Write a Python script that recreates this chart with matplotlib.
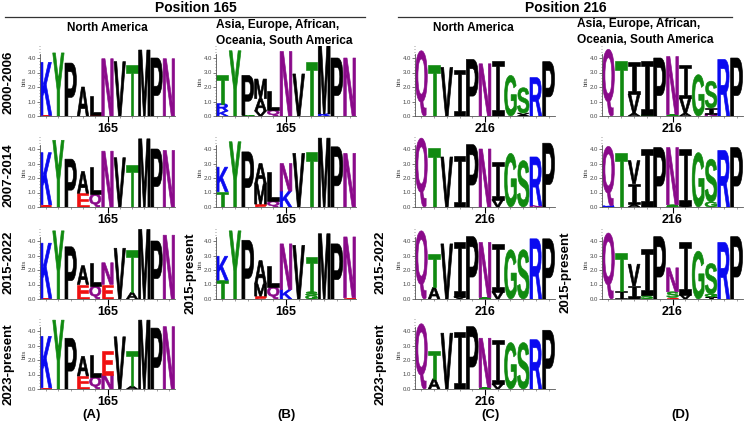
import matplotlib
matplotlib.use('Agg')
import matplotlib.pyplot as plt
from matplotlib.textpath import TextPath
from matplotlib.patches import PathPatch
from matplotlib.path import Path
from matplotlib.font_manager import FontProperties
from matplotlib.transforms import Affine2D
from matplotlib.ticker import MultipleLocator

plt.rcParams['font.family'] = ['Liberation Sans', 'DejaVu Sans']

# sequence logo data: each column is a stack of (residue, bits), bottom to top
# position 165, North America
na165_2000 = [[('E', 0.05), ('K', 3.65)], [('Y', 4.35)], [('P', 3.65)], [('A', 2.0)],
              [('E', 0.08), ('L', 1.3)], [('N', 3.95)], [('V', 3.75)], [('T', 3.5)],
              [('M', 4.55)], [('P', 4.0)], [('N', 3.95)]]
na165_2007 = [[('E', 0.15), ('K', 3.6)], [('Y', 4.6)], [('P', 3.3)], [('E', 0.95), ('A', 1.5)],
              [('Q', 0.9), ('L', 1.85)], [('N', 3.85)], [('V', 3.4)], [('T', 2.9)],
              [('M', 4.7)], [('P', 4.0)], [('N', 3.9)]]
na165_2015 = [[('E', 0.05), ('K', 3.8)], [('Y', 4.7)], [('P', 3.6)], [('E', 1.0), ('A', 1.3)],
              [('Q', 0.9), ('L', 1.6)], [('E', 1.0), ('N', 1.5)], [('V', 3.5)],
              [('A', 0.45), ('T', 2.95)], [('M', 4.8)], [('P', 4.0)], [('N', 4.4)]]
na165_2023 = [[('E', 0.08), ('K', 3.55)], [('Y', 4.75)], [('P', 3.5)], [('E', 0.9), ('A', 1.35)],
              [('Q', 0.85), ('L', 1.5)], [('N', 1.0), ('E', 1.65)], [('V', 3.6)],
              [('A', 0.2), ('T', 2.45)], [('M', 4.75)], [('P', 4.2)], [('N', 4.3)]]
# position 165, Asia/Europe/Africa/Oceania/South America
ot165_2000 = [[('K', 0.35), ('R', 0.5), ('T', 1.95)], [('Y', 4.5)], [('T', 0.05), ('P', 2.75)],
              [('V', 0.35), ('A', 0.85), ('M', 1.35)], [('Q', 0.4), ('L', 1.35)], [('N', 4.45)],
              [('V', 2.9)], [('T', 3.75)], [('K', 0.15), ('M', 4.7)], [('P', 4.0)], [('N', 4.0)]]
ot165_2007 = [[('T', 1.05), ('K', 1.7)], [('Y', 4.5)], [('P', 3.8)],
              [('E', 0.2), ('M', 1.4), ('A', 1.4)], [('Q', 0.4), ('L', 2.0)], [('K', 1.1), ('N', 1.9)],
              [('V', 3.7)], [('T', 3.8)], [('M', 4.75)], [('P', 4.15)], [('N', 3.7)]]
ot165_2015 = [[('T', 1.3), ('K', 1.65)], [('Y', 4.7)], [('P', 4.05)],
              [('E', 0.2), ('M', 0.85), ('A', 1.6)], [('Q', 0.85), ('L', 1.45)], [('K', 0.65), ('N', 3.15)],
              [('V', 3.7)], [('G', 0.25), ('S', 0.25), ('T', 2.4)], [('M', 4.5)], [('P', 3.8)],
              [('E', 0.08), ('N', 4.2)]]
# position 216, North America
na216_2000 = [[('Q', 4.5)], [('T', 3.55)], [('V', 3.35)], [('I', 3.2)], [('P', 3.9)], [('N', 3.6)],
              [('I', 3.8)], [('G', 2.8)], [('A', 0.08), ('V', 0.12), ('S', 1.75)], [('R', 2.65)], [('P', 3.75)]]
na216_2007 = [[('Q', 4.75)], [('T', 4.1)], [('V', 3.45)], [('I', 3.55)], [('P', 4.3)], [('N', 4.0)],
              [('V', 0.5), ('I', 2.6)], [('G', 3.7)], [('S', 3.2)], [('N', 0.1), ('R', 3.35)], [('P', 4.4)]]
na216_2015 = [[('Q', 4.7)], [('A', 0.8), ('T', 2.3)], [('V', 3.8)], [('V', 0.15), ('I', 3.75)], [('P', 4.3)],
              [('S', 0.1), ('N', 3.8)], [('V', 0.5), ('I', 3.3)], [('G', 3.4)], [('S', 3.4)], [('R', 4.15)],
              [('P', 4.15)]]
na216_2023 = [[('Q', 4.5)], [('A', 0.7), ('T', 1.95)], [('V', 3.85)], [('I', 3.95)], [('P', 4.3)],
              [('S', 0.1), ('N', 3.4)], [('V', 0.35), ('I', 3.05)], [('G', 3.2)], [('S', 3.2)], [('R', 3.4)],
              [('P', 4.05)]]
# position 216, other continents
ot216_2000 = [[('Q', 4.6)], [('T', 3.8)], [('A', 0.2), ('V', 1.3), ('I', 2.2)], [('G', 0.1), ('I', 3.7)],
              [('P', 4.0)], [('S', 0.1), ('N', 4.0)], [('A', 0.2), ('V', 1.05), ('I', 2.3)], [('G', 2.85)],
              [('N', 0.15), ('I', 0.4), ('S', 1.85)], [('R', 3.9)], [('P', 4.0)]]
ot216_2007 = [[('K', 0.08), ('Q', 4.1)], [('T', 3.75)], [('A', 0.2), ('I', 1.4), ('V', 1.6)],
              [('I', 4.0)], [('P', 4.1)], [('S', 0.15), ('N', 3.95)], [('V', 0.1), ('I', 3.9)], [('G', 3.75)],
              [('G', 0.35), ('S', 2.95)], [('R', 3.9)], [('P', 4.1)]]
ot216_2015 = [[('Q', 4.55)], [('I', 0.55), ('T', 2.65)], [('A', 0.1), ('I', 0.8), ('V', 1.5)],
              [('S', 0.3), ('I', 3.15)], [('P', 4.3)], [('E', 0.1), ('S', 0.4), ('N', 1.65)],
              [('V', 0.3), ('I', 3.6)], [('G', 3.3)], [('I', 0.15), ('G', 0.2), ('S', 2.1)], [('R', 3.9)],
              [('P', 4.3)]]

colors = {'K': '#0a0af0', 'R': '#0a0af0', 'H': '#0a0af0',
          'Y': '#108a10', 'T': '#108a10', 'G': '#108a10', 'S': '#108a10', 'C': '#108a10',
          'N': '#8a0a8a', 'Q': '#8a0a8a',
          'E': '#f01010', 'D': '#f01010',
          'P': 'black', 'A': 'black', 'L': 'black', 'V': 'black', 'I': 'black', 'M': 'black',
          'F': 'black', 'W': 'black'}

W, H = 750, 424
fig = plt.figure(figsize=(7.5, 4.24), dpi=100)

def fx(x):
    return x / W

def fy(y):
    return 1 - y / H

letter_font = FontProperties(family='Liberation Sans', weight='bold')
paths = {}

# serif capital I like the one weblogo draws (bar, thin stem, bar)
bar, half = 0.1, 0.14
i_path = Path([(0, 0), (1, 0), (1, bar), (0.5 + half, bar), (0.5 + half, 1 - bar), (1, 1 - bar),
               (1, 1), (0, 1), (0, 1 - bar), (0.5 - half, 1 - bar), (0.5 - half, bar), (0, bar), (0, 0)],
              closed=True)

def glyph(ch):
    if ch not in paths:
        paths[ch] = i_path if ch == 'I' else TextPath((0, 0), ch, size=1, prop=letter_font)
    return paths[ch]

ppb = 14.5   # pixels per bit
ytop = 4.8

def logo(stacks, x0, x1, zero, site):
    ax = fig.add_axes([fx(x0), fy(zero), fx(x1 - x0), ytop * ppb / H])
    for i, stack in enumerate(stacks, start=1):
        base = 0
        for ch, h in stack:
            p = glyph(ch)
            e = p.get_extents()
            tr = (Affine2D().translate(-e.x0, -e.y0)
                  .scale(0.93 / e.width, h / e.height)
                  .translate(i - 0.465, base))
            ax.add_patch(PathPatch(p, transform=tr + ax.transData, fc=colors[ch],
                                   ec=colors[ch], lw=0.45, joinstyle='miter'))
            base += h
    ax.set_xlim(0.5, len(stacks) + 0.5)
    ax.set_ylim(0, ytop)
    ax.patch.set_alpha(0)
    for s in ['top', 'right']:
        ax.spines[s].set_visible(False)
    ax.spines['left'].set_bounds(0, 4.3)
    for s in ['left', 'bottom']:
        ax.spines[s].set_linewidth(0.6)
        ax.spines[s].set_color('#555555')
    ax.set_yticks([0, 1, 2, 3, 4])
    ax.set_yticklabels(['0.0', '1.0', '2.0', '3.0', '4.0'])
    ax.yaxis.set_minor_locator(MultipleLocator(0.2))
    ax.tick_params(axis='y', labelsize=4.3, length=2, width=0.5, pad=1, colors='#444444')
    ax.tick_params(axis='y', which='minor', length=1, width=0.4, colors='#555555')
    ax.set_ylabel('bits', fontsize=4.3, labelpad=0.5, color='#444444')
    ax.set_xticks([6])
    ax.set_xticklabels([site])
    ax.set_xticks(range(1, len(stacks) + 1), minor=True)
    ax.tick_params(axis='x', length=4, width=0.8, pad=1, labelsize=9)
    ax.tick_params(axis='x', which='minor', length=1.5, width=0.4, colors='#555555')
    for t in ax.get_xticklabels():
        t.set_fontweight('bold')
    return ax

rows = [116, 207, 299, 389]
colA, colB, colC, colD = (40, 175), (216, 356), (415, 555), (602, 743)

for data, r in zip([na165_2000, na165_2007, na165_2015, na165_2023], rows):
    logo(data, colA[0], colA[1], r, '165')
for data, r in zip([ot165_2000, ot165_2007, ot165_2015], rows):
    logo(data, colB[0], colB[1], r, '165')
for data, r in zip([na216_2000, na216_2007, na216_2015, na216_2023], rows):
    logo(data, colC[0], colC[1], r, '216')
for data, r in zip([ot216_2000, ot216_2007, ot216_2015], rows):
    logo(data, colD[0], colD[1], r, '216')

def txt(x, y, s, size, **kw):
    fig.text(fx(x), fy(y), s, fontsize=size, fontweight='bold', ha=kw.pop('ha', 'center'),
             va=kw.pop('va', 'center'), **kw)

# headers
txt(196, 8, 'Position 165', 10)
txt(566, 8, 'Position 216', 10)
fig.add_artist(plt.Line2D([fx(5), fx(365)], [fy(16.5), fy(16.5)], color='#333333', lw=0.9))
fig.add_artist(plt.Line2D([fx(398), fx(732)], [fy(16.5), fy(16.5)], color='#333333', lw=0.9))
txt(107, 28, 'North America', 8.5)
txt(473, 28, 'North America', 8.5)
other = 'Asia, Europe, African,\nOceania, South America'
txt(216, 33, other, 8.6, ha='left', linespacing=1.35)
txt(577, 32, other, 8.6, ha='left', linespacing=1.35)

# period labels
for s, y in zip(['2000-2006', '2007-2014', '2015-2022', '2023-present'], [82, 175, 262, 364]):
    txt(9, y, s, 9.5, rotation=90)
txt(380, 262, '2015-2022', 9.5, rotation=90)
txt(380, 364, '2023-present', 9.5, rotation=90)
txt(190, 273, '2015-present', 9.5, rotation=90)
txt(566, 272, '2015-present', 9.5, rotation=90)

for s, x in zip(['(A)', '(B)', '(C)', '(D)'], [92, 287, 490, 680]):
    txt(x, 415, s, 9.5)

fig.savefig('out.png', dpi=100)
